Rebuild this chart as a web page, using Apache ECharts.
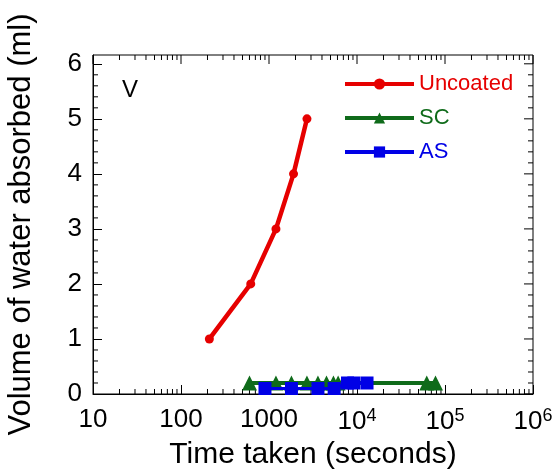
<!DOCTYPE html>
<html>
<head>
<meta charset="utf-8">
<script src="https://cdn.jsdelivr.net/npm/echarts@6/dist/echarts.min.js"></script>
<style>
  html, body { margin: 0; padding: 0; background: #fff; }
  #chart { width: 555px; height: 469px; }
</style>
</head>
<body>
<div id="chart"></div>
<script>
// Water uptake over time for uncoated and coated specimens
const timeUncoated = [210, 620, 1200, 1900, 2700];
const volUncoated  = [1, 2, 3, 4, 5];

const timeSC = [600, 1200, 1800, 2700, 3600, 4500, 5400, 6100, 62000, 78000];
const volSC  = [0.2, 0.2, 0.2, 0.2, 0.2, 0.2, 0.2, 0.2, 0.2, 0.2];

const timeAS = [900, 1800, 3600, 5500, 7800, 9200, 13000];
const volAS  = [0.1, 0.1, 0.1, 0.1, 0.2, 0.2, 0.2];

const xTickValues = [10, 100, 1000, 10000, 100000, 1000000];
const xTickLabels = ['10', '100', '1000', '10{sup|4}', '10{sup|5}', '10{sup|6}'];
const yTickValues = [0, 1, 2, 3, 4, 5, 6];

const FONT = '"Liberation Sans", Arial, sans-serif';
const RED = '#e60000', GREEN = '#0f6b1a', BLUE = '#0000e6';
// the frame reaches a little above the last labelled tick
const X_MIN = 10, X_MAX = 1000000, Y_MIN = 0, Y_MAX = 6.16;

// tick marks drawn along the frame: [side, value, length]
const frameTicks = [];
xTickValues.forEach(v => frameTicks.push(['top', v, 9]));
for (let d = 10; d < X_MAX; d *= 10) {
  for (let k = 2; k <= 9; k++) {
    frameTicks.push(['top', d * k, 5]);
    frameTicks.push(['bottom', d * k, 5]);
  }
}
yTickValues.forEach(v => frameTicks.push(['right', v, 9]));
for (let i = 1; i < 30; i++) {
  if (i % 5 !== 0) {
    frameTicks.push(['right', i / 5, 5]);
    frameTicks.push(['left', i / 5, 5]);
  }
}

const pairs = (xs, ys) => xs.map((x, i) => [x, ys[i]]);
const axisLineStyle = { color: '#000', width: 1 };

const chart = echarts.init(document.getElementById('chart'), null, { renderer: 'canvas' });
chart.setOption({
  animation: false,
  backgroundColor: '#fff',
  grid: {
    left: 93, right: 22, top: 55, bottom: 75, containLabel: false,
    outerBoundsMode: 'none',
    show: true, borderColor: '#000', borderWidth: 1, backgroundColor: 'transparent'
  },
  xAxis: {
    type: 'log', logBase: 10, min: X_MIN, max: X_MAX, position: 'bottom',
    name: 'Time taken (seconds)', nameLocation: 'middle', nameGap: 41,
    nameTextStyle: { fontFamily: FONT, fontSize: 30, color: '#000' },
    axisLine: { lineStyle: axisLineStyle },
    axisTick: { inside: true, length: 9, lineStyle: axisLineStyle },
    splitLine: { show: false },
    axisLabel: {
      margin: 13, fontFamily: FONT, fontSize: 26, color: '#000',
      formatter: function (v) {
        const i = xTickValues.findIndex(t => Math.abs(Math.log10(t) - Math.log10(v)) < 1e-6);
        return i >= 0 ? xTickLabels[i] : '';
      },
      rich: { sup: { fontFamily: FONT, fontSize: 18, color: '#000', verticalAlign: 'top', padding: [0, 0, 12, 0] } }
    }
  },
  yAxis: {
    type: 'value', min: Y_MIN, max: Y_MAX, position: 'left',
    name: 'Volume of water absorbed (ml)', nameLocation: 'middle', nameGap: 56,
    nameTextStyle: { fontFamily: FONT, fontSize: 31, color: '#000' },
    axisLine: { show: true, lineStyle: axisLineStyle },
    axisTick: { show: true, inside: true, length: 9, lineStyle: axisLineStyle, customValues: yTickValues },
    minorTick: { show: false },
    splitLine: { show: false },
    axisLabel: { margin: 11, fontFamily: FONT, fontSize: 26, color: '#000', customValues: yTickValues }
  },
  legend: {
    orient: 'vertical', left: 343, top: 73, padding: 0,
    itemWidth: 69, itemHeight: 14, itemGap: 12,
    textStyle: { fontFamily: FONT, fontSize: 22 },
    data: [
      { name: 'Uncoated', textStyle: { color: RED }, lineStyle: { width: 4 } },
      { name: 'SC', textStyle: { color: GREEN }, lineStyle: { width: 4 } },
      { name: 'AS', textStyle: { color: BLUE }, lineStyle: { width: 4 } }
    ]
  },
  graphic: [
    { type: 'text', left: 122, top: 78, style: { text: 'V', fontFamily: FONT, fontSize: 24, fill: '#000' } }
  ],
  series: [
    {
      name: 'frame ticks', type: 'custom', silent: true, clip: false, z: 1,
      data: frameTicks.map((t, i) => [i]),
      renderItem: function (params, api) {
        const t = frameTicks[params.dataIndex];
        const side = t[0], v = t[1], len = t[2];
        let p, x2, y2;
        if (side === 'top') { p = api.coord([v, Y_MAX]); x2 = p[0]; y2 = p[1] + len; }
        else if (side === 'bottom') { p = api.coord([v, Y_MIN]); x2 = p[0]; y2 = p[1] - len; }
        else if (side === 'right') { p = api.coord([X_MAX, v]); x2 = p[0] - len; y2 = p[1]; }
        else { p = api.coord([X_MIN, v]); x2 = p[0] + len; y2 = p[1]; }
        return { type: 'line', shape: { x1: p[0], y1: p[1], x2: x2, y2: y2 }, style: { stroke: '#000', lineWidth: 1 } };
      }
    },
    {
      name: 'Uncoated', type: 'line', data: pairs(timeUncoated, volUncoated),
      symbol: 'circle', symbolSize: 9, z: 3,
      lineStyle: { color: RED, width: 4.5 }, itemStyle: { color: RED }
    },
    {
      name: 'SC', type: 'line', data: pairs(timeSC, volSC),
      symbol: 'triangle', symbolSize: 15, z: 3,
      lineStyle: { color: GREEN, width: 4 }, itemStyle: { color: GREEN }
    },
    {
      name: 'AS', type: 'line', data: pairs(timeAS, volAS),
      symbol: 'rect', symbolSize: 13, z: 4,
      lineStyle: { color: BLUE, width: 3 }, itemStyle: { color: BLUE }
    }
  ]
});
</script>
</body>
</html>
